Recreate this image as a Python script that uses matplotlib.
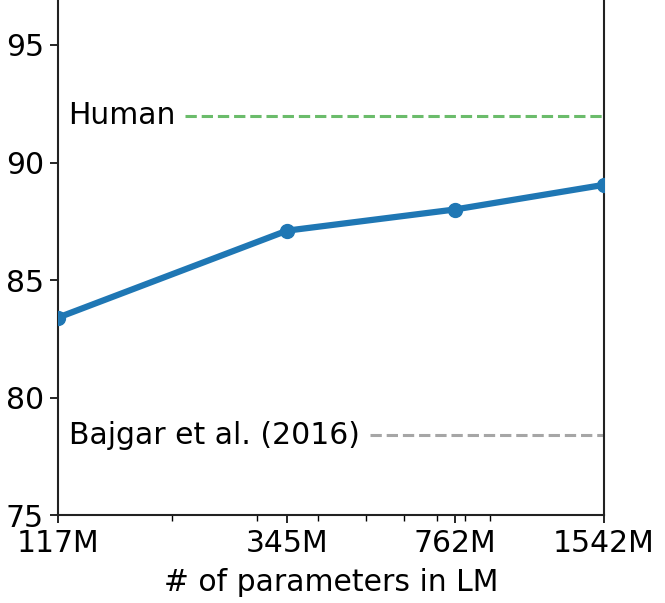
import matplotlib
matplotlib.use("Agg")
import matplotlib.pyplot as plt
from matplotlib.ticker import FixedLocator, FixedFormatter

params = [117, 345, 762, 1542]
tick_labels = ["117M", "345M", "762M", "1542M"]
scores = [83.4, 87.1, 88.0, 89.05]
human_score = 92.0
bajgar_score = 78.4

fig = plt.figure(figsize=(6.65, 6.03), dpi=100)
ax = fig.add_axes([0.0872, 0.1459, 0.8211, 0.8964])

ax.set_xscale("log")
ax.plot(params, scores, color="#1f77b4", lw=4.5, marker="o", markersize=10, zorder=3)

ax.hlines(human_score, 213, params[-1], colors="tab:green", alpha=0.7, linestyles="--", lw=2.2)
ax.hlines(bajgar_score, 511, params[-1], colors="gray", alpha=0.7, linestyles="--", lw=2.2)
fs = 21.5
ax.text(123, human_score, "Human", fontsize=fs, va="center", ha="left")
ax.text(123, bajgar_score, "Bajgar et al. (2016)", fontsize=fs, va="center", ha="left")

ax.set_xlim(params[0], params[-1])
ax.set_ylim(75, 98)
ax.xaxis.set_major_locator(FixedLocator(params))
ax.xaxis.set_major_formatter(FixedFormatter(tick_labels))
ax.set_yticks([75, 80, 85, 90, 95])
ax.tick_params(axis="both", labelsize=fs, length=6, width=1.2)
ax.tick_params(axis="y", pad=4)
ax.tick_params(axis="x", pad=4)
ax.tick_params(axis="x", which="minor", length=4, width=1.0)
ax.set_xlabel("# of parameters in LM", fontsize=fs, labelpad=7)
for s in ax.spines.values():
    s.set_linewidth(1.5)
    s.set_color("#222222")

fig.savefig("out.png", dpi=100)
